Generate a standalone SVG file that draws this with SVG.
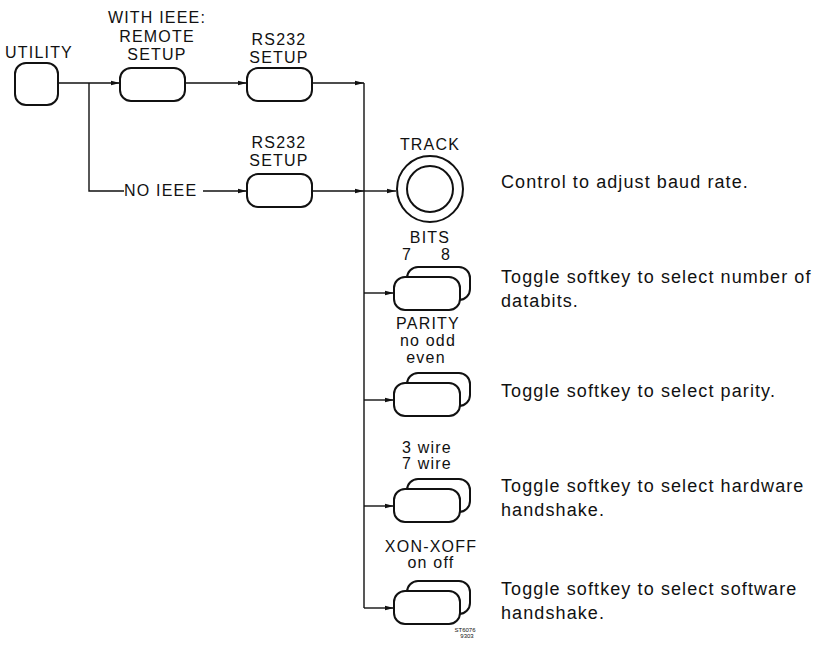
<svg xmlns="http://www.w3.org/2000/svg" width="831" height="649" viewBox="0 0 831 649">
<defs>
<marker id="arr" markerWidth="9" markerHeight="6" refX="9" refY="3" orient="auto" markerUnits="userSpaceOnUse"><path d="M0,0.8 L9,3 L0,5.2 Z" fill="#111"/></marker>
</defs>
<style>
.box{fill:#fff;stroke:#111;stroke-width:2}
.ln{fill:none;stroke:#111;stroke-width:1.4}
.lb{font-family:"Liberation Sans",Arial,sans-serif;font-size:16px;letter-spacing:1.2px;fill:#111;text-anchor:middle}
.ds{font-family:"Liberation Sans",Arial,sans-serif;font-size:18px;letter-spacing:1.1px;fill:#111}
.tiny{font-family:"Liberation Sans",Arial,sans-serif;font-size:6px;fill:#111;text-anchor:middle}
</style>
<rect width="831" height="649" fill="#fff"/>
<g id="connectors">
<path class="ln" d="M58,83 H120" marker-end="url(#arr)"/>
<path class="ln" d="M89,83 V191 H124"/>
<path class="ln" d="M203,191 H247" marker-end="url(#arr)"/>
<path class="ln" d="M185,83 H247" marker-end="url(#arr)"/>
<path class="ln" d="M312,83 H364" marker-end="url(#arr)"/>
<path class="ln" d="M364,83 V608"/>
<path class="ln" d="M312,191 H364" marker-end="url(#arr)"/>
<path class="ln" d="M364,191 H396" marker-end="url(#arr)"/>
<path class="ln" d="M364,293 H394" marker-end="url(#arr)"/>
<path class="ln" d="M364,400 H394" marker-end="url(#arr)"/>
<path class="ln" d="M364,506 H394" marker-end="url(#arr)"/>
<path class="ln" d="M364,608 H394" marker-end="url(#arr)"/>
</g>
<g id="utility">
<text class="lb" x="39" y="58">UTILITY</text>
<rect class="box" x="15" y="63" width="43" height="42" rx="11"/>
</g>
<g id="remote-setup">
<text class="lb" x="157" y="23">WITH IEEE:</text>
<text class="lb" x="157" y="42">REMOTE</text>
<text class="lb" x="157" y="60">SETUP</text>
<rect class="box" x="120" y="68" width="65" height="33" rx="11"/>
</g>
<g id="rs232-setup-ieee">
<text class="lb" x="279" y="45">RS232</text>
<text class="lb" x="279" y="63">SETUP</text>
<rect class="box" x="247" y="68" width="65" height="33" rx="11"/>
</g>
<g id="no-ieee">
<text class="lb" x="124" y="196" style="text-anchor:start">NO IEEE</text>
</g>
<g id="rs232-setup-noieee">
<text class="lb" x="279" y="148">RS232</text>
<text class="lb" x="279" y="166">SETUP</text>
<rect class="box" x="247" y="174" width="65" height="33" rx="11"/>
</g>
<g id="track">
<text class="lb" x="430" y="150">TRACK</text>
<circle class="box" cx="430" cy="189" r="33"/>
<circle class="box" cx="430" cy="189" r="23"/>
<text class="ds" x="501" y="188">Control to adjust baud rate.</text>
</g>
<g id="bits">
<text class="lb" x="430" y="243">BITS</text>
<text class="lb" x="407" y="260">7</text>
<text class="lb" x="446" y="260">8</text>
<rect class="box" x="407" y="267" width="63" height="33" rx="11"/>
<rect class="box" x="394" y="277" width="66" height="33" rx="11"/>
<text class="ds" x="501" y="283">Toggle softkey to select number of</text>
<text class="ds" x="501" y="307">databits.</text>
</g>
<g id="parity">
<text class="lb" x="428" y="329">PARITY</text>
<text class="lb" x="428" y="346">no odd</text>
<text class="lb" x="426" y="363">even</text>
<rect class="box" x="407" y="373" width="63" height="33" rx="11"/>
<rect class="box" x="394" y="383" width="66" height="33" rx="11"/>
<text class="ds" x="501" y="397">Toggle softkey to select parity.</text>
</g>
<g id="hardware">
<text class="lb" x="427" y="453">3 wire</text>
<text class="lb" x="427" y="469">7 wire</text>
<rect class="box" x="407" y="479" width="63" height="33" rx="11"/>
<rect class="box" x="394" y="489" width="66" height="33" rx="11"/>
<text class="ds" x="501" y="492">Toggle softkey to select hardware</text>
<text class="ds" x="501" y="516">handshake.</text>
</g>
<g id="software">
<text class="lb" x="431" y="552">XON-XOFF</text>
<text class="lb" x="431" y="568">on off</text>
<rect class="box" x="407" y="581" width="63" height="33" rx="11"/>
<rect class="box" x="394" y="591" width="66" height="33" rx="11"/>
<text class="ds" x="501" y="595">Toggle softkey to select software</text>
<text class="ds" x="501" y="619">handshake.</text>
</g>
<g id="figure-code">
<text class="tiny" x="465" y="632">ST6076</text>
<text class="tiny" x="467" y="638">9303</text>
</g>
</svg>
